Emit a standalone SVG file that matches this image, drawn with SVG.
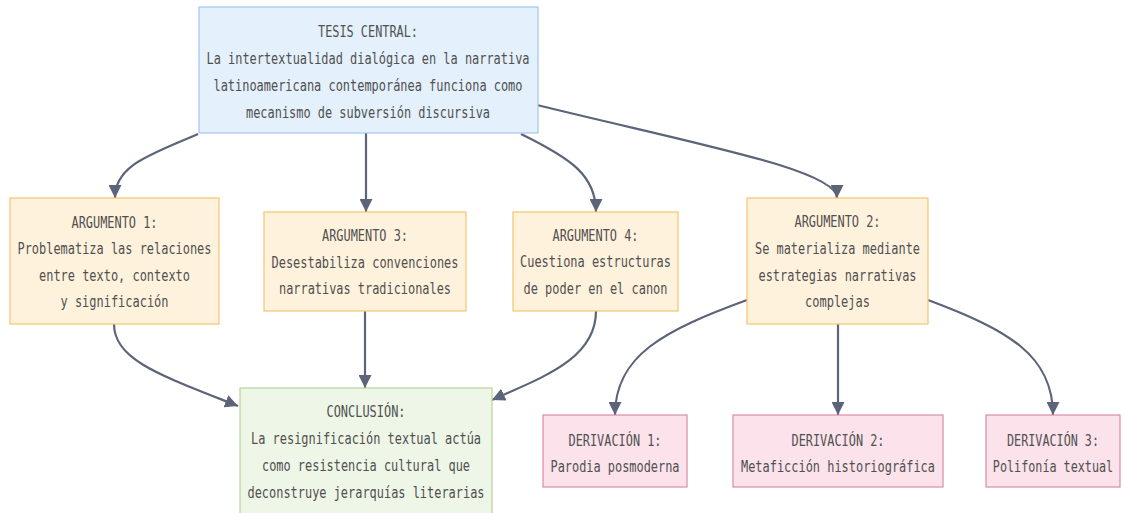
<svg xmlns="http://www.w3.org/2000/svg" width="1125" height="513" viewBox="0 0 1125 513">
  <style>
    .lbl { font-family: "DejaVu Sans Mono", "Liberation Mono", monospace; font-size: 15px; fill: #505050; text-anchor: middle; }
    .edge { fill: none; stroke: #5b6478; stroke-width: 2.2; }
    .thesis rect { fill: #e4f0fc; stroke: #9ec6ef; stroke-width: 1.2; }
    .arg rect { fill: #fff2dd; stroke: #f4c66e; stroke-width: 1.2; }
    .concl rect { fill: #eef6e8; stroke: #b6d49b; stroke-width: 1.2; }
    .deriv rect { fill: #fbe2eb; stroke: #d98aa9; stroke-width: 1.2; }
  </style>
  <defs>
    <marker id="arrow" markerUnits="userSpaceOnUse" viewBox="0 0 13 13" markerWidth="13" markerHeight="13" refX="13" refY="6.5" orient="auto">
      <path d="M0,0 L13,6.5 L0,13 z" fill="#5b6478"/>
    </marker>
  </defs>
  <rect width="1125" height="513" fill="#ffffff"/>

  <!-- connectors -->
  <g id="connectors" class="edge" marker-end="url(#arrow)">
    <path d="M198,134 C150,155 115,165 115,198"/>
    <path d="M366,133 L366,212"/>
    <path d="M521,134 C570,158 596,175 596,212"/>
    <path d="M537,105 C700,145 837,170 837,198"/>
    <path d="M114,324 C114,360 160,375 238,406"/>
    <path d="M365,311 L365,388"/>
    <path d="M596,311 C596,360 540,378 492,400"/>
    <path d="M747,300 C665,330 615,355 615,415"/>
    <path d="M838,324 L838,415"/>
    <path d="M928,300 C1008,330 1053,355 1053,415"/>
  </g>

  <!-- thesis -->
  <g id="tesis" class="thesis">
    <rect x="199" y="7" width="339" height="126"/>
    <text class="lbl" x="368" y="37" textLength="100" lengthAdjust="spacingAndGlyphs">TESIS CENTRAL:</text>
    <text class="lbl" x="368" y="64" textLength="323" lengthAdjust="spacingAndGlyphs">La intertextualidad dialógica en la narrativa</text>
    <text class="lbl" x="368" y="91" textLength="309" lengthAdjust="spacingAndGlyphs">latinoamericana contemporánea funciona como</text>
    <text class="lbl" x="368" y="118" textLength="244" lengthAdjust="spacingAndGlyphs">mecanismo de subversión discursiva</text>
  </g>

  <!-- arguments -->
  <g id="argumento1" class="arg">
    <rect x="10" y="198" width="209" height="126"/>
    <text class="lbl" x="114.5" y="228" textLength="86" lengthAdjust="spacingAndGlyphs">ARGUMENTO 1:</text>
    <text class="lbl" x="114.5" y="254" textLength="194" lengthAdjust="spacingAndGlyphs">Problematiza las relaciones</text>
    <text class="lbl" x="114.5" y="281" textLength="151" lengthAdjust="spacingAndGlyphs">entre texto, contexto</text>
    <text class="lbl" x="114.5" y="307" textLength="108" lengthAdjust="spacingAndGlyphs">y significación</text>
  </g>
  <g id="argumento3" class="arg">
    <rect x="264" y="212" width="202" height="99"/>
    <text class="lbl" x="365" y="241" textLength="86" lengthAdjust="spacingAndGlyphs">ARGUMENTO 3:</text>
    <text class="lbl" x="365" y="268" textLength="187" lengthAdjust="spacingAndGlyphs">Desestabiliza convenciones</text>
    <text class="lbl" x="365" y="294" textLength="172" lengthAdjust="spacingAndGlyphs">narrativas tradicionales</text>
  </g>
  <g id="argumento4" class="arg">
    <rect x="513" y="212" width="165" height="99"/>
    <text class="lbl" x="595.5" y="241" textLength="86" lengthAdjust="spacingAndGlyphs">ARGUMENTO 4:</text>
    <text class="lbl" x="595.5" y="267" textLength="151" lengthAdjust="spacingAndGlyphs">Cuestiona estructuras</text>
    <text class="lbl" x="595.5" y="294" textLength="144" lengthAdjust="spacingAndGlyphs">de poder en el canon</text>
  </g>
  <g id="argumento2" class="arg">
    <rect x="747" y="198" width="181" height="126"/>
    <text class="lbl" x="837.5" y="227" textLength="86" lengthAdjust="spacingAndGlyphs">ARGUMENTO 2:</text>
    <text class="lbl" x="837.5" y="254" textLength="165" lengthAdjust="spacingAndGlyphs">Se materializa mediante</text>
    <text class="lbl" x="837.5" y="281" textLength="158" lengthAdjust="spacingAndGlyphs">estrategias narrativas</text>
    <text class="lbl" x="837.5" y="307" textLength="65" lengthAdjust="spacingAndGlyphs">complejas</text>
  </g>

  <!-- conclusion -->
  <g id="conclusion" class="concl">
    <rect x="240" y="388" width="252" height="128"/>
    <text class="lbl" x="366" y="417" textLength="79" lengthAdjust="spacingAndGlyphs">CONCLUSIÓN:</text>
    <text class="lbl" x="366" y="444" textLength="230" lengthAdjust="spacingAndGlyphs">La resignificación textual actúa</text>
    <text class="lbl" x="366" y="471" textLength="208" lengthAdjust="spacingAndGlyphs">como resistencia cultural que</text>
    <text class="lbl" x="366" y="498" textLength="237" lengthAdjust="spacingAndGlyphs">deconstruye jerarquías literarias</text>
  </g>

  <!-- derivations -->
  <g id="derivacion1" class="deriv">
    <rect x="543" y="415" width="144" height="72"/>
    <text class="lbl" x="615" y="446" textLength="93" lengthAdjust="spacingAndGlyphs">DERIVACIÓN 1:</text>
    <text class="lbl" x="615" y="472" textLength="129" lengthAdjust="spacingAndGlyphs">Parodia posmoderna</text>
  </g>
  <g id="derivacion2" class="deriv">
    <rect x="733" y="415" width="210" height="72"/>
    <text class="lbl" x="838" y="446" textLength="93" lengthAdjust="spacingAndGlyphs">DERIVACIÓN 2:</text>
    <text class="lbl" x="838" y="472" textLength="194" lengthAdjust="spacingAndGlyphs">Metaficción historiográfica</text>
  </g>
  <g id="derivacion3" class="deriv">
    <rect x="986" y="415" width="134" height="72"/>
    <!-- narrow labels: condensed by scaling the group so the glyph box stays inside the frame -->
    <g transform="translate(1053,0) scale(0.785,1)">
      <text class="lbl" x="0" y="446">DERIVACIÓN 3:</text>
      <text class="lbl" x="0" y="472">Polifonía textual</text>
    </g>
  </g>
</svg>
